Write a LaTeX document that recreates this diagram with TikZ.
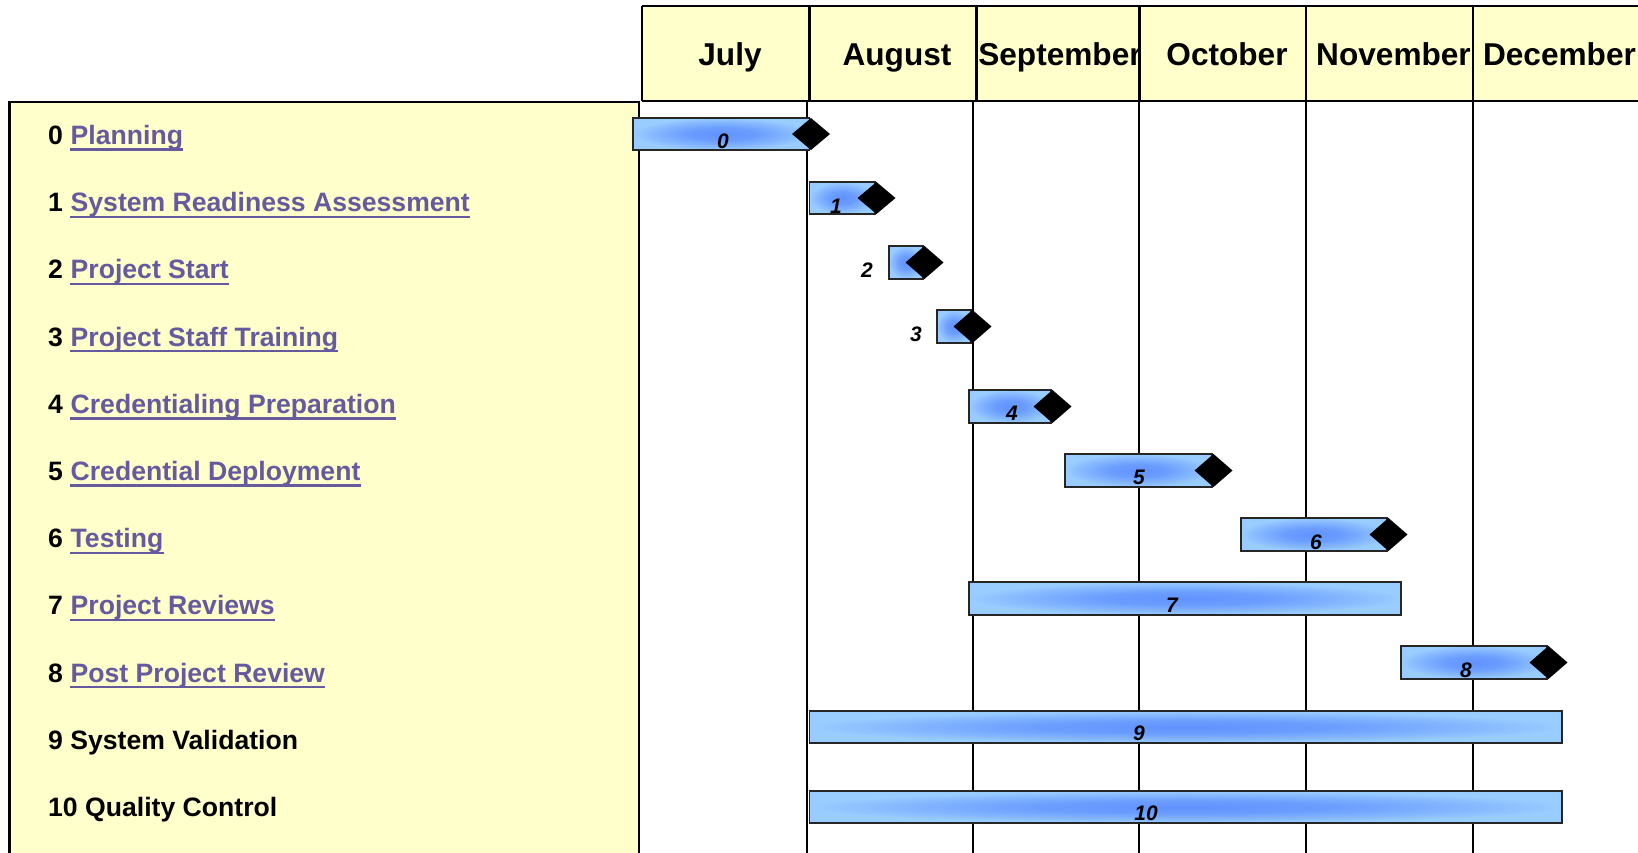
\documentclass[tikz,border=0pt]{standalone}
\usepackage{fontspec}
\setmainfont{Liberation Sans}
\definecolor{panel}{RGB}{255,255,204}
\definecolor{linkc}{RGB}{102,90,158}
\definecolor{bardark}{RGB}{96,146,255}
\definecolor{barlight}{RGB}{153,204,255}
\pgfdeclareradialshading{barshade}{\pgfpoint{0bp}{0bp}}{color(0bp)=(bardark); color(10bp)=(bardark!80!barlight); color(19bp)=(bardark!35!barlight); color(25bp)=(barlight); color(50bp)=(barlight)}
\begin{document}
\begin{tikzpicture}[x=1pt,y=-1pt,
  lbl/.style={font=\fontsize{26.6}{30}\selectfont\bfseries, inner sep=0pt, anchor=base west},
  lnk/.style={lbl, text=linkc},
  mon/.style={font=\fontsize{31.6}{36}\selectfont\bfseries, inner sep=0pt, anchor=base},
  barlbl/.style={font=\fontsize{21}{24}\selectfont\bfseries\itshape, inner sep=0pt},
  bar/.style={shading=barshade, draw=black!85, line width=1.5pt},
  gridl/.style={line width=1.8pt},
  border/.style={line width=2.2pt}]
\useasboundingbox (0,0) rectangle (1638,852);
\clip (0,0) rectangle (1638,852);

% left panel
\filldraw[fill=panel, border] (9.5,102) rectangle (639,880);

% header
\fill[panel] (642,6) rectangle (1660,101);
\foreach \xa/\xb/\cx/\m in {642/809.5/730/July, 809.5/976.5/897/August, 976.5/1139.5/1060/September, 1139.5/1306/1227/October, 1306/1473/1393.5/November, 1473/1660/1559.5/December}{
  \begin{scope}
    \clip (\xa,6) rectangle (\xb,101);
    \node[mon] (m\m) at (\cx,65.5) {\m};
  \end{scope}
}
\draw[border] (642,6) -- (1660,6) (642,101) -- (1660,101);
\foreach \x in {642,809.5,976.5,1139.5,1306,1473} \draw[border] (\x,6) -- (\x,101);

% grid lines
\foreach \x in {807,973,1139,1306,1473} \draw[gridl] (\x,101) -- (\x,880);

% bars
\foreach \i/\xa/\xb/\ya/\yb/\lx/\ly/\dm in {
  0/633/809.5/118/150/723/141.5/1,
  1/809.5/875/182/214/836/206.5/1,
  2/889/923/246/279/867/270.5/1,
  3/937/971/310/343/916/334.5/1,
  4/969/1051/390/423/1012/413.5/1,
  5/1065/1212/454/487/1139/477.5/1,
  6/1241/1387/518/551/1316/542.5/1,
  7/969/1401/582/615/1172/605.5/0,
  8/1401/1547/646/679/1466/670.5/1,
  9/809.5/1562/711/743/1139/733.5/0,
  10/809.5/1562/791/823/1146/813.5/0}{
  \pgfmathsetmacro\yc{(\ya+\yb)/2}
  \path[bar] (\xa,\ya) rectangle (\xb,\yb);
  \ifnum\dm=1
    \fill (\xb+1.5,\ya) -- (\xb+20.5,\yc) -- (\xb+1.5,\yb) -- (\xb-17.5,\yc) -- cycle;
  \fi
  \node[barlbl] (b\i) at (\lx,\ly) {\i};
}

% task labels
\foreach \i/\bl/\t in {0/144.5/Planning, 1/211.7/System Readiness Assessment, 2/278.9/Project Start, 3/346.1/Project Staff Training, 4/413.3/Credentialing Preparation, 5/480.5/Credential Deployment, 6/547.7/Testing, 7/614.9/Project Reviews, 8/682.1/Post Project Review}{
  \node[lbl] (n\i) at (48,\bl) {\i};
  \node[lnk] (l\i) at ([xshift=7.3pt]n\i.base east) {\t};
  \draw[linkc, line width=2.4pt] ([yshift=-5pt]l\i.base west) -- ([yshift=-5pt]l\i.base east);
}
\node[lbl] (n9) at (48,749.3) {9 System Validation};
\node[lbl] (n10) at (48,816.5) {10 Quality Control};
\end{tikzpicture}
\end{document}
